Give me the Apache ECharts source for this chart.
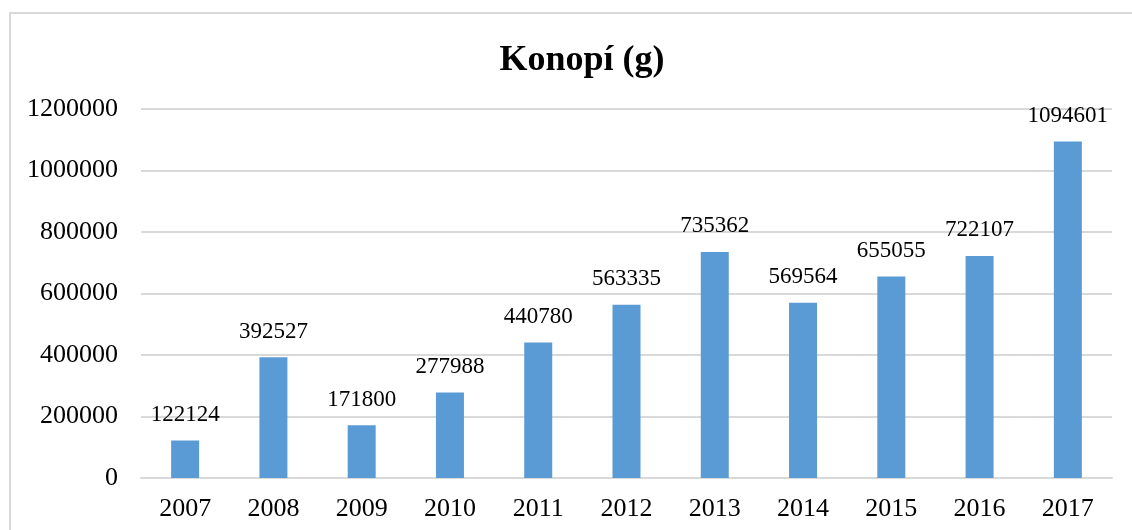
<!DOCTYPE html>
<html>
<head>
<meta charset="utf-8">
<script src="https://cdn.jsdelivr.net/npm/echarts@6/dist/echarts.min.js"></script>
<style>
  html, body { margin: 0; padding: 0; background: #fff; }
  #frame { position: absolute; left: 9px; top: 12px; width: 1140px; height: 540px; border: 2px solid #d9d9d9; box-sizing: border-box; }
  #chart { position: absolute; left: 0; top: 0; width: 1132px; height: 530px; }
</style>
</head>
<body>
<div id="frame"></div>
<div id="chart"></div>
<script>
// roky
var years = ['2007', '2008', '2009', '2010', '2011', '2012', '2013', '2014', '2015', '2016', '2017'];
// množství konopí v gramech
var grams = [122124, 392527, 171800, 277988, 440780, 563335, 735362, 569564, 655055, 722107, 1094601];

var myChart = echarts.init(document.getElementById('chart'));
var font = '"Liberation Serif", "Times New Roman", serif';

var option = {
    animation: false,
    title: {
        text: 'Konopí (g)',
        left: 577,
        textAlign: 'center',
        top: 38,
        textStyle: { fontFamily: font, fontSize: 36, fontWeight: 'bold', color: '#000' }
    },
    grid: { left: 141, right: 20, top: 109, bottom: 52 },
    xAxis: {
        type: 'category',
        data: years,
        axisLine: { lineStyle: { color: '#d9d9d9', width: 2 } },
        axisTick: { show: false },
        axisLabel: { fontFamily: font, fontSize: 26, color: '#000', margin: 18 }
    },
    yAxis: {
        type: 'value',
        min: 0,
        max: 1200000,
        interval: 200000,
        axisLine: { show: false },
        axisTick: { show: false },
        splitLine: { lineStyle: { color: '#d9d9d9', width: 2 } },
        axisLabel: {
            fontFamily: font, fontSize: 26, color: '#000', margin: 23,
            formatter: function (v) { return String(v); }
        }
    },
    series: [{
        type: 'bar',
        data: grams,
        barWidth: 28,
        itemStyle: { color: '#5b9bd5' },
        label: {
            show: true,
            position: 'top',
            distance: 14,
            fontFamily: font,
            fontSize: 23,
            color: '#000'
        }
    }]
};
myChart.setOption(option);
</script>
</body>
</html>
